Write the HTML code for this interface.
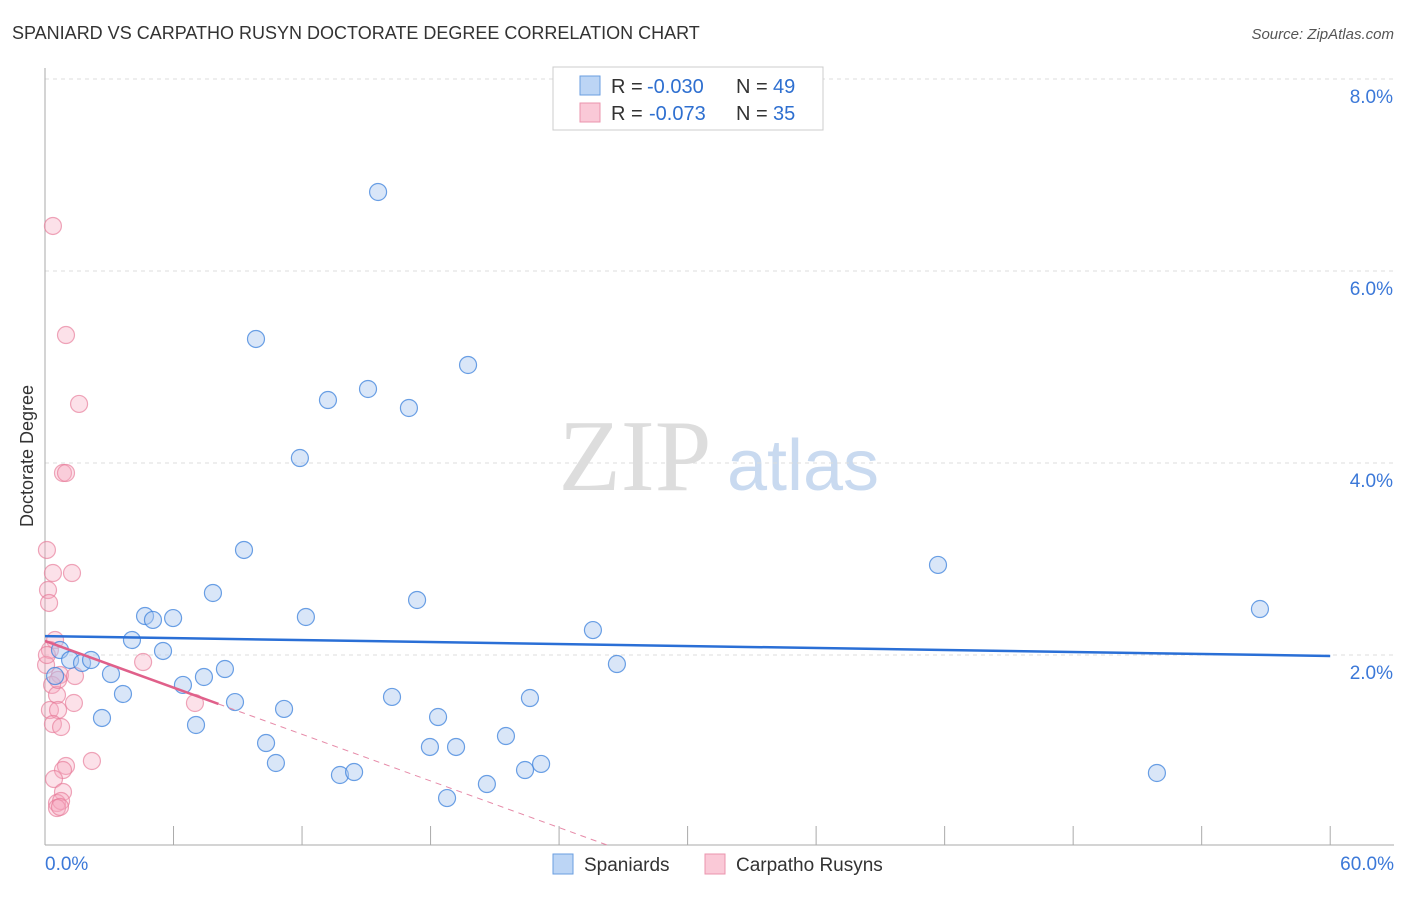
<!DOCTYPE html>
<html><head><meta charset="utf-8"><style>
body{margin:0;background:#fff;font-family:"Liberation Sans",sans-serif}
</style></head><body>
<svg id="chart" width="1406" height="892" xmlns="http://www.w3.org/2000/svg" font-family="Liberation Sans, sans-serif">
<text x="12" y="39" font-size="18" fill="#333">SPANIARD VS CARPATHO RUSYN DOCTORATE DEGREE CORRELATION CHART</text>
<text x="1394" y="39" font-size="15" fill="#555" text-anchor="end" font-style="italic">Source: ZipAtlas.com</text>
<text x="33" y="456" font-size="18" fill="#333" text-anchor="middle" transform="rotate(-90 33 456)">Doctorate Degree</text>
<g><text x="635" y="490" font-size="102" fill="#ddd" font-family="Liberation Serif, serif" text-anchor="middle">ZIP</text><text x="803" y="490" font-size="72" fill="#c9daf0" text-anchor="middle">atlas</text></g>
<g id="grid"></g><g id="axes"></g><g id="marks"></g>
<g font-size="20">
<rect x="553" y="67" width="270" height="63" fill="#fff" stroke="#ccc"/>
<rect x="580" y="76" width="20" height="19" fill="#bcd5f5" stroke="#6a9ee0"/>
<rect x="580" y="103" width="20" height="19" fill="#fac9d7" stroke="#eb94ae"/>
<text x="611" y="93" fill="#333">R =</text><text x="647" y="93" fill="#2e6fd0">-0.030</text>
<text x="736" y="93" fill="#333">N =</text><text x="773" y="93" fill="#2e6fd0">49</text>
<text x="611" y="120" fill="#333">R =</text><text x="649" y="120" fill="#2e6fd0">-0.073</text>
<text x="736" y="120" fill="#333">N =</text><text x="773" y="120" fill="#2e6fd0">35</text>
</g>
<g>
<rect x="553" y="854" width="20" height="20" fill="#bcd5f5" stroke="#6a9ee0"/>
<text x="584" y="871" font-size="19" fill="#333">Spaniards</text>
<rect x="705" y="854" width="20" height="20" fill="#fac9d7" stroke="#eb94ae"/>
<text x="736" y="871" font-size="19" fill="#333">Carpatho Rusyns</text>
</g>
</svg>
<script>
const yTicks=[2,4,6,8];
const xTickLabels=["0.0%","60.0%"];
const bluePx=[[378,192],[256,339],[468,365],[328,400],[368,389],[409,408],[300,458],[244,550],[938,565],[213,593],[417,600],[1260,609],[145,616],[153,620],[173,618],[306,617],[132,640],[593,630],[163,651],[617,664],[60,650],[70,660],[82,663],[91,660],[111,674],[55,676],[225,669],[204,677],[183,685],[123,694],[392,697],[530,698],[235,702],[284,709],[102,718],[438,717],[196,725],[506,736],[266,743],[430,747],[456,747],[276,763],[541,764],[525,770],[340,775],[354,772],[1157,773],[487,784],[447,798]];
const pinkPx=[[53,226],[66,335],[79,404],[63,473],[66,473],[47,550],[53,573],[72,573],[48,590],[49,603],[55,640],[50,650],[46,665],[60,675],[75,676],[52,685],[57,695],[143,662],[195,703],[50,710],[74,703],[58,710],[53,724],[61,727],[92,761],[66,766],[63,770],[54,779],[63,792],[57,803],[61,801],[57,808],[60,807],[47,655],[58,680]];
const blueX=bluePx.map(p=>+((p[0]-45)/21.42).toFixed(2)), blueY=bluePx.map(p=>+((847-p[1])/96).toFixed(3));
const pinkX=pinkPx.map(p=>+((p[0]-45)/21.42).toFixed(2)), pinkY=pinkPx.map(p=>+((847-p[1])/96).toFixed(3));
const blueTrend=[2.197,1.99];
const pinkTrend=[2.146,-0.081];
const sx=v=>45+v*21.42, sy=v=>847-v*96;
const NS="http://www.w3.org/2000/svg";
function mk(tag,attrs,parent){const e=document.createElementNS(NS,tag);for(const k in attrs)e.setAttribute(k,attrs[k]);document.getElementById(parent).appendChild(e);return e;}
yTicks.forEach(t=>{
 const l=mk('line',{x1:45,x2:1394,y1:sy(t),y2:sy(t),stroke:'#ddd','stroke-dasharray':'4,4'},'grid');
 
 
 const tx=mk('text',{x:1393,y:sy(t)+24,'font-size':19,fill:'#3b78d8','text-anchor':'end'},'grid');tx.textContent=t.toFixed(1)+'%';
 
 
});
mk('line',{x1:45,x2:45,y1:68,y2:845,stroke:'#aaa'},'axes');
mk('line',{x1:45,x2:1394,y1:845,y2:845,stroke:'#aaa'},'axes');
for(let i=1;i<=10;i++){const t=mk('line',{x1:sx(i*6),x2:sx(i*6),y1:826,y2:845,stroke:'#aaa'},'axes');
 
 }
const xl0=mk('text',{x:45,y:870,'font-size':19,fill:'#3b78d8'},'axes');xl0.textContent=xTickLabels[0];


const xl1=mk('text',{x:1394,y:870,'font-size':19,fill:'#3b78d8','text-anchor':'end'},'axes');xl1.textContent=xTickLabels[1];


pinkX.forEach((x,i)=>{const c=mk('circle',{cx:sx(x),cy:sy(pinkY[i]),r:8.5,fill:'rgba(245,170,192,0.35)',stroke:'rgba(230,120,150,0.65)','stroke-width':1.2},'marks');
 
 });
blueX.forEach((x,i)=>{const c=mk('circle',{cx:sx(x),cy:sy(blueY[i]),r:8.5,fill:'rgba(170,200,240,0.45)',stroke:'rgba(60,130,220,0.75)','stroke-width':1.2},'marks');
 
 });
const bt=mk('line',{x1:sx(0),y1:sy(blueTrend[0]),x2:sx(60),y2:sy(blueTrend[1]),stroke:'#2a6fd6','stroke-width':2.5},'marks');


const pf=x=>pinkTrend[0]+pinkTrend[1]*x;
const pt=mk('line',{x1:sx(0),y1:sy(pf(0)),x2:sx(8.1),y2:sy(pf(8.1)),stroke:'#e0608a','stroke-width':2.5},'marks');


const pd=mk('line',{x1:sx(8.1),y1:sy(pf(8.1)),x2:sx(26.4),y2:sy(pf(26.4)),stroke:'#e68aa8','stroke-width':1,'stroke-dasharray':'6,5'},'marks');


</script>
</body></html>
